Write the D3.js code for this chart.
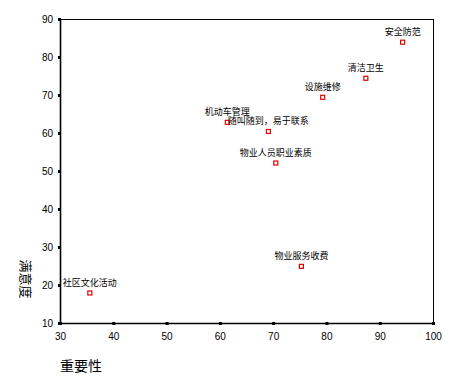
<!DOCTYPE html>
<html>
<head>
<meta charset="utf-8">
<script src="https://cdn.jsdelivr.net/npm/d3@7"></script>
<style>
  body { margin: 0; background: #fff; }
  svg { display: block; }
  .tick text { font-family: "Liberation Sans", Arial, sans-serif; font-size: 10px; fill: #000; }
  .pt-label { font-family: "Noto Sans CJK SC", sans-serif; font-size: 9px; fill: #000; }
  .axis-title { font-family: "Noto Sans CJK SC", sans-serif; fill: #000; }
</style>
</head>
<body>
<div id="chart"></div>
<script>
// 各项服务：重要性 (x) 与 满意度 (y)
var names = ["安全防范", "清洁卫生", "设施维修", "机动车管理", "随叫随到，易于联系", "物业人员职业素质", "物业服务收费", "社区文化活动"];
var importance = [94.3, 87.4, 79.3, 61.4, 69.1, 70.5, 75.3, 35.6];
var satisfaction = [83.9, 74.4, 69.4, 62.8, 60.4, 52.1, 24.9, 17.9];
var xTicks = [30, 40, 50, 60, 70, 80, 90, 100];
var yTicks = [10, 20, 30, 40, 50, 60, 70, 80, 90];

var width = 450, height = 390;
var margin = {top: 19, right: 17, bottom: 67, left: 60};

var svg = d3.select("#chart").append("svg")
    .attr("width", width)
    .attr("height", height);

var x = d3.scaleLinear().domain([30, 100]).range([margin.left, width - margin.right]);
var y = d3.scaleLinear().domain([10, 90]).range([height - margin.bottom, margin.top]);

// frame
svg.append("rect")
    .attr("x", x(30) + 0.5)
    .attr("y", y(90) + 0.5)
    .attr("width", x(100) - x(30))
    .attr("height", y(10) - y(90))
    .attr("fill", "none")
    .attr("stroke", "#000")
    .attr("stroke-width", 1);

// axes
var xAxis = svg.append("g")
    .attr("transform", "translate(0," + y(10) + ")")
    .call(d3.axisBottom(x).tickValues(xTicks).tickSize(0).tickPadding(10));
var yAxis = svg.append("g")
    .attr("transform", "translate(" + x(30) + ",0)")
    .call(d3.axisLeft(y).tickValues(yTicks).tickSize(0).tickPadding(7));

xAxis.select(".domain").attr("stroke", "#000").attr("stroke-width", 1.6);
yAxis.select(".domain").attr("stroke", "#000").attr("stroke-width", 1.6);

// small square tick markers
xAxis.selectAll(".tick").append("rect")
    .attr("x", -1.5).attr("y", -1).attr("width", 3).attr("height", 3)
    .attr("fill", "#000");
yAxis.selectAll(".tick").append("rect")
    .attr("x", -2).attr("y", -1.5).attr("width", 3).attr("height", 3)
    .attr("fill", "#000");

// points
var data = names.map(function(n, i){ return {name: n, x: importance[i], y: satisfaction[i]}; });

var pts = svg.append("g").selectAll("g")
    .data(data)
  .enter().append("g")
    .attr("transform", function(d){ return "translate(" + x(d.x) + "," + y(d.y) + ")"; });

pts.append("rect")
    .attr("x", -2).attr("y", -2)
    .attr("width", 4).attr("height", 4)
    .attr("fill", "#fff")
    .attr("stroke", "#e00000")
    .attr("stroke-width", 1.2);

pts.append("text")
    .attr("class", "pt-label")
    .attr("text-anchor", "middle")
    .attr("y", -7)
    .text(function(d){ return d.name; });

// axis titles
svg.append("text")
    .attr("class", "axis-title")
    .attr("font-size", 14)
    .attr("x", 60)
    .attr("y", 371)
    .text("重要性");

svg.append("text")
    .attr("class", "axis-title")
    .attr("font-size", 13)
    .attr("text-anchor", "middle")
    .attr("transform", "translate(21,279) rotate(90)")
    .text("满意度");
</script>
</body>
</html>
